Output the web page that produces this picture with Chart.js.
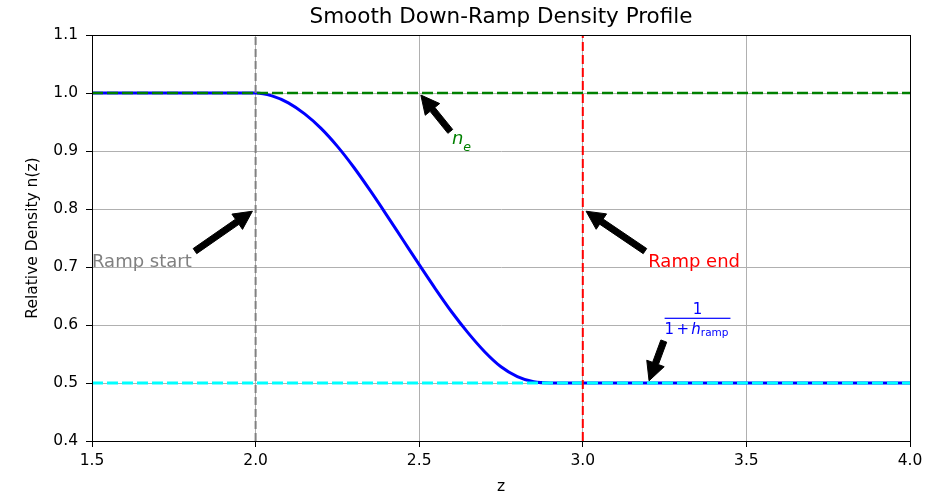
<!DOCTYPE html>
<html>
<head>
<meta charset="utf-8">
<script src="https://cdn.jsdelivr.net/npm/chart.js@4.4.1/dist/chart.umd.min.js"></script>
<style>
  html, body { margin: 0; padding: 0; background: #fff; }
  #c { display: block; }
</style>
</head>
<body>
<canvas id="c" width="935" height="496"></canvas>
<script>
// ---- data ----
const zValues = [1.5, 2.0, 2.05, 2.10, 2.15, 2.20, 2.25, 2.30, 2.35, 2.40, 2.45, 2.50, 2.55, 2.60, 2.65, 2.70, 2.75, 2.80, 2.85, 2.90, 4.0];
const nValues = [1.0, 1.0, 0.995, 0.983, 0.964, 0.939, 0.908, 0.872, 0.832, 0.790, 0.747, 0.704, 0.662, 0.622, 0.586, 0.554, 0.528, 0.511, 0.502, 0.500, 0.500];
const xTicks = [1.5, 2.0, 2.5, 3.0, 3.5, 4.0];
const yTicks = [0.4, 0.5, 0.6, 0.7, 0.8, 0.9, 1.0, 1.1];
const rampStartZ = 2.0;
const rampEndZ = 3.0;
const neLevel = 1.0;
const floorLevel = 0.5;
// annotations: label, arrow target (z, n), text anchor (z, n)
const annoLabels = ['Ramp start', 'n_e', 'Ramp end', 'frac'];
const annoTargetZ = [2.0, 2.5, 3.0, 3.2];
const annoTargetN = [0.8, 1.0, 0.8, 0.5];
const annoTextZ = [1.5, 2.6, 3.2, 3.25];
const annoTextN = [0.7, 0.9, 0.7, 0.6];
const chartTitle = 'Smooth Down-Ramp Density Profile';
const xTitle = 'z';
const yTitle = 'Relative Density n(z)';

const FONT = '"DejaVu Sans", sans-serif';
Chart.defaults.font.family = FONT;

const xMin = xTicks[0], xMax = xTicks[xTicks.length - 1];
const yMin = yTicks[0], yMax = yTicks[yTicks.length - 1];

const curve = zValues.map((z, i) => ({x: z, y: nValues[i]}));

const annoColors = ['#808080', '#008000', '#ff0000', '#0000ff'];

function drawArrow(ctx, sx, sy, tx, ty) {
  const dx = tx - sx, dy = ty - sy;
  const r = Math.hypot(dx, dy);
  const ux = dx / r, uy = dy / r;
  const shrink = 0.05 * r;
  const ax = sx + ux * shrink, ay = sy + uy * shrink;
  const bx = tx - ux * shrink, by = ty - uy * shrink;
  const headLen = 18.5, headHalf = 9.3, tailHalf = 3.1;
  const hx = bx - ux * headLen, hy = by - uy * headLen;
  const px = -uy, py = ux;
  ctx.save();
  ctx.fillStyle = '#000';
  ctx.strokeStyle = '#000';
  ctx.lineWidth = 1;
  ctx.beginPath();
  ctx.moveTo(ax + px * tailHalf, ay + py * tailHalf);
  ctx.lineTo(hx + px * tailHalf, hy + py * tailHalf);
  ctx.lineTo(hx + px * headHalf, hy + py * headHalf);
  ctx.lineTo(bx, by);
  ctx.lineTo(hx - px * headHalf, hy - py * headHalf);
  ctx.lineTo(hx - px * tailHalf, hy - py * tailHalf);
  ctx.lineTo(ax - px * tailHalf, ay - py * tailHalf);
  ctx.closePath();
  ctx.fill();
  ctx.stroke();
  ctx.restore();
}

function anchorPoint(bb, tx, ty) {
  const xs = [bb.x0, (bb.x0 + bb.x1) / 2, bb.x1];
  const ys = [bb.y0, (bb.y0 + bb.y1) / 2, bb.y1];
  let bx = xs[0], by = ys[0];
  xs.forEach(v => { if (Math.abs(v - tx) < Math.abs(bx - tx)) bx = v; });
  ys.forEach(v => { if (Math.abs(v - ty) < Math.abs(by - ty)) by = v; });
  return [bx, by];
}

const annotationPlugin = {
  id: 'annos',
  afterDraw(chart) {
    const ctx = chart.ctx;
    const xs = chart.scales.x, ys = chart.scales.y;
    const F = 18;
    annoLabels.forEach((lab, i) => {
      const px = xs.getPixelForValue(annoTextZ[i]);
      const py = ys.getPixelForValue(annoTextN[i]);
      const tx = xs.getPixelForValue(annoTargetZ[i]);
      const ty = ys.getPixelForValue(annoTargetN[i]);
      ctx.save();
      ctx.fillStyle = annoColors[i];
      ctx.textBaseline = 'alphabetic';
      ctx.textAlign = 'left';
      let bb;
      if (lab === 'n_e') {
        const nb = py - 7.5;
        ctx.font = 'italic ' + F + 'px ' + FONT;
        const wn = ctx.measureText('n').width;
        ctx.fillText('n', px, nb);
        ctx.font = 'italic ' + (F * 0.7) + 'px ' + FONT;
        const we = ctx.measureText('e').width;
        ctx.fillText('e', px + wn, py - 0.5);
        bb = {x0: px, x1: px + wn + we, y0: nb - 0.56 * F, y1: py};
      } else if (lab === 'frac') {
        const Fd = 15;
        const barY = py - 6.7;
        ctx.font = Fd + 'px ' + FONT;
        const w1 = ctx.measureText('1').width;
        const wp = ctx.measureText('+').width;
        ctx.font = 'italic ' + Fd + 'px ' + FONT;
        const wh = ctx.measureText('h').width;
        ctx.font = (Fd * 0.7) + 'px ' + FONT;
        const wr = ctx.measureText('ramp').width;
        const gap = 2.3;
        const denW = w1 + gap + wp + gap + wh + wr;
        const barW = denW + 2;
        const x0 = px;
        ctx.fillRect(x0, barY - 0.6, barW, 1.2);
        ctx.font = Fd + 'px ' + FONT;
        ctx.fillText('1', x0 + (barW - w1) / 2, barY - 4);
        const db = barY + 15.3;
        let cx = x0;
        ctx.fillText('1', cx, db); cx += w1 + gap;
        ctx.fillText('+', cx, db); cx += wp + gap;
        ctx.font = 'italic ' + Fd + 'px ' + FONT;
        ctx.fillText('h', cx, db); cx += wh;
        ctx.font = (Fd * 0.7) + 'px ' + FONT;
        ctx.fillText('ramp', cx, db + 2.2);
        bb = {x0: x0, x1: x0 + barW, y0: barY - 4 - 0.76 * Fd, y1: db + 0.35 * Fd};
      } else {
        ctx.font = F + 'px ' + FONT;
        const w = ctx.measureText(lab).width;
        ctx.fillText(lab, px, py);
        bb = {x0: px, x1: px + w, y0: py - 0.76 * F, y1: py + 0.24 * F};
      }
      ctx.restore();
      const [sx, sy] = anchorPoint(bb, tx, ty);
      drawArrow(ctx, sx, sy, tx, ty);
    });
  }
};

const framePlugin = {
  id: 'frame',
  afterDatasetsDraw(chart) {
    const {left, top, right, bottom} = chart.chartArea;
    const ctx = chart.ctx;
    ctx.save();
    ctx.strokeStyle = '#000';
    ctx.lineWidth = 1;
    ctx.strokeRect(Math.round(left) + 0.5, Math.round(top) + 0.5, Math.round(right - left), Math.round(bottom - top));
    ctx.restore();
  }
};

const titlePlugin = {
  id: 'axesTitle',
  afterDraw(chart) {
    const {left, right} = chart.chartArea;
    const ctx = chart.ctx;
    ctx.save();
    ctx.fillStyle = '#000';
    ctx.font = '21.5px ' + FONT;
    ctx.textAlign = 'center';
    ctx.textBaseline = 'middle';
    ctx.fillText(chartTitle, (left + right) / 2, 17);
    ctx.restore();
  }
};

new Chart(document.getElementById('c'), {
  type: 'line',
  data: {
    datasets: [
      {
        label: 'n(z)',
        data: curve,
        borderColor: '#0000ff',
        borderWidth: 3,
        pointRadius: 0,
        cubicInterpolationMode: 'monotone',
        fill: false,
        order: 5
      },
      {
        label: 'n_e',
        data: [{x: xMin, y: neLevel}, {x: xMax, y: neLevel}],
        borderColor: '#008000',
        borderWidth: 2.6,
        borderDash: [11, 4],
        pointRadius: 0,
        order: 2
      },
      {
        label: 'floor',
        data: [{x: xMin, y: floorLevel}, {x: xMax, y: floorLevel}],
        borderColor: '#00ffff',
        borderWidth: 3,
        borderDash: [11, 4],
        pointRadius: 0,
        order: 2
      },
      {
        label: 'ramp start',
        data: [{x: rampStartZ, y: yMin}, {x: rampStartZ, y: yMax}],
        borderColor: '#808080',
        borderWidth: 2,
        borderDash: [8, 4],
        pointRadius: 0,
        order: 1
      },
      {
        label: 'ramp end',
        data: [{x: rampEndZ, y: yMin}, {x: rampEndZ, y: yMax}],
        borderColor: '#ff0000',
        borderWidth: 2,
        borderDash: [9, 4],
        pointRadius: 0,
        order: 1
      }
    ]
  },
  options: {
    responsive: false,
    animation: false,
    devicePixelRatio: 1,
    layout: {padding: {left: 0, right: 25, top: 35, bottom: 0}},
    plugins: {
      legend: {display: false},
      tooltip: {enabled: false},
      title: {display: false}
    },
    scales: {
      x: {
        type: 'linear',
        min: xMin,
        max: xMax,
        afterFit: s => { s.height = 55; },
        afterBuildTicks: s => { s.ticks = xTicks.map(v => ({value: v})); },
        ticks: {
          callback: v => Number(v).toFixed(1),
          font: {size: 15.5, family: FONT},
          color: '#000',
          padding: 5,
          maxRotation: 0,
          autoSkip: false
        },
        grid: {color: '#b0b0b0', lineWidth: 1, tickColor: '#000', tickLength: 6, tickWidth: 1},
        border: {color: '#000', width: 1},
        title: {display: true, text: xTitle, color: '#000', font: {size: 15.5, family: FONT}, padding: {top: 0, bottom: 0}}
      },
      y: {
        type: 'linear',
        min: yMin,
        max: yMax,
        afterFit: s => { s.width = 92; },
        afterBuildTicks: s => { s.ticks = yTicks.map(v => ({value: v})); },
        ticks: {
          callback: v => Number(v).toFixed(1),
          font: {size: 15.5, family: FONT},
          color: '#000',
          padding: 8,
          autoSkip: false
        },
        grid: {color: '#b0b0b0', lineWidth: 1, tickColor: '#000', tickLength: 6, tickWidth: 1},
        border: {color: '#000', width: 1},
        title: {display: true, text: yTitle, color: '#000', font: {size: 15.5, family: FONT}, padding: {top: 24, bottom: 0}}
      }
    }
  },
  plugins: [framePlugin, annotationPlugin, titlePlugin]
});
</script>
</body>
</html>
